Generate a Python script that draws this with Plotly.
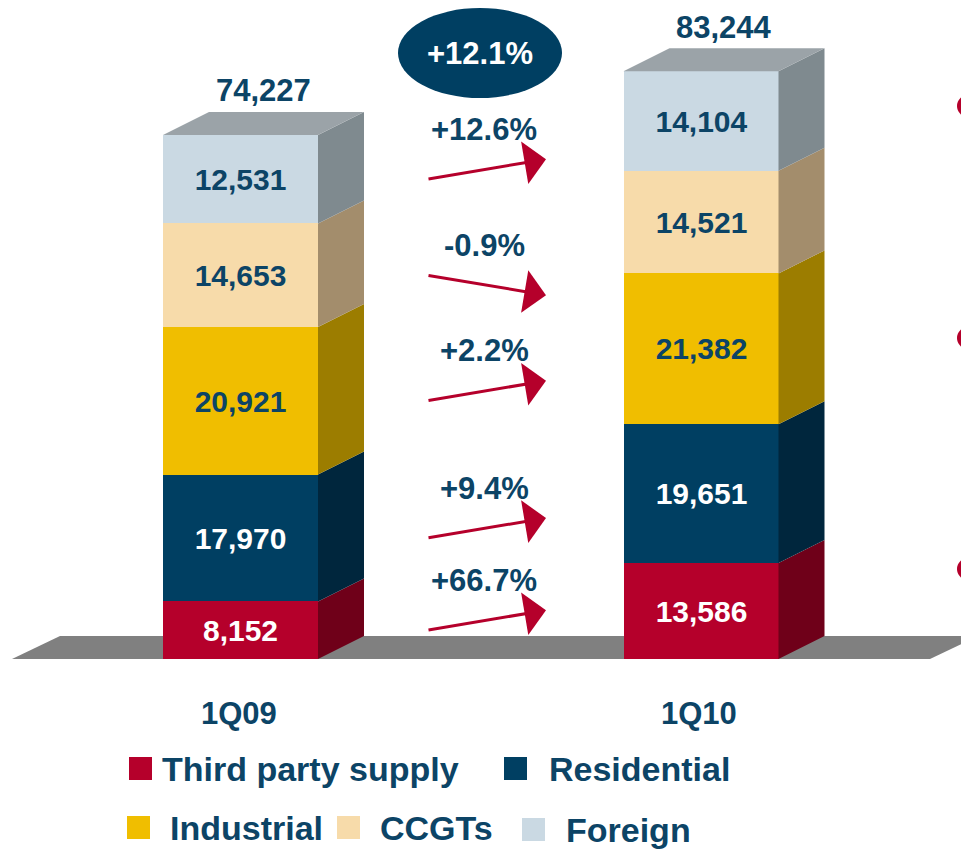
import plotly.graph_objects as go

# ---------------- data ----------------
categories = ["1Q09", "1Q10"]
segments = ["Third party supply", "Residential", "Industrial", "CCGTs", "Foreign"]
values_1q09 = [8152, 17970, 20921, 14653, 12531]
values_1q10 = [13586, 19651, 21382, 14521, 14104]
totals = [74227, 83244]
segment_changes = ["+66.7%", "+9.4%", "+2.2%", "-0.9%", "+12.6%"]
total_change = "+12.1%"

# ---------------- styles ----------------
NAVY_TXT = "#0C4466"
RED = "#B5002B"
front_colors = ["#B5002B", "#003F62", "#F0BE00", "#F7DBAA", "#CAD9E3"]
side_colors = ["#6F0019", "#00263D", "#9C7D00", "#A38D6C", "#7F8A8F"]
text_colors = ["white", "white", NAVY_TXT, NAVY_TXT, NAVY_TXT]
TOP_COLOR = "#9BA3A8"
FLOOR_COLOR = "#808080"
FONT = "Liberation Sans, Arial, sans-serif"

W, H = 961, 849
X0_PX, UX = 240.5, 460.5      # pixel of x=0, pixels per x unit
Y0_PX, SY = 659.0, 0.00706    # pixel of y=0, pixels per y unit
x_range = [-X0_PX / UX, (W - X0_PX) / UX]
y_range = [-(H - Y0_PX) / SY, Y0_PX / SY]
BAR_W = 155 / UX
DX = 46 / UX
DY = 23 / SY


def px_x(p):
    return (p - X0_PX) / UX


series = [values_1q09, values_1q10]
xs = list(range(len(categories)))

fig = go.Figure()

# front faces (stacked bars)
for i, seg in enumerate(segments):
    vals = [s[i] for s in series]
    fig.add_trace(go.Bar(
        x=xs, y=vals, width=BAR_W, name=seg,
        marker=dict(color=front_colors[i], line=dict(width=0)),
        text=[f"{v:,}" for v in vals], textposition="inside",
        insidetextanchor="middle", textangle=0,
        insidetextfont=dict(family=FONT, size=30, color=text_colors[i], weight="bold"),
        showlegend=False, hoverinfo="skip",
    ))

# side faces and top faces
for j, s in enumerate(series):
    xr = xs[j] + BAR_W / 2
    xl = xs[j] - BAR_W / 2
    base = 0
    for i, v in enumerate(s):
        y0, y1 = base, base + v
        fig.add_trace(go.Scatter(
            x=[xr, xr + DX, xr + DX, xr, xr],
            y=[y0, y0 + DY, y1 + DY, y1, y0],
            fill="toself", fillcolor=side_colors[i], mode="lines",
            line=dict(width=0, color=side_colors[i]),
            showlegend=False, hoverinfo="skip",
        ))
        base = y1
    T = sum(s)
    fig.add_trace(go.Scatter(
        x=[xl, xl + DX, xr + DX, xr, xl],
        y=[T, T + DY, T + DY, T, T],
        fill="toself", fillcolor=TOP_COLOR, mode="lines",
        line=dict(width=0, color=TOP_COLOR),
        showlegend=False, hoverinfo="skip",
    ))

shapes = []
annotations = []

# floor
fl, fr = px_x(12), px_x(930)
shapes.append(dict(
    type="path", xref="x", yref="y", layer="below",
    path=f"M{fl},0 L{fr},0 L{fr + 48 / UX},{DY} L{fl + 48 / UX},{DY} Z",
    fillcolor=FLOOR_COLOR, line=dict(width=0),
))

# totals
for j, t in enumerate(totals):
    annotations.append(dict(
        x=xs[j] + DX / 2, y=t + DY, xref="x", yref="y", yshift=21,
        text=f"{t:,}", showarrow=False, yanchor="middle",
        font=dict(family=FONT, size=31, color=NAVY_TXT, weight="bold"),
    ))

# category labels
for j, c in enumerate(categories):
    annotations.append(dict(
        x=xs[j] - 0.004, y=0, xref="x", yref="y", yshift=-54,
        text=c, showarrow=False, yanchor="middle",
        font=dict(family=FONT, size=31, color=NAVY_TXT, weight="bold"),
    ))

# growth arrows
xt, xh = px_x(427), px_x(546)
cum = 0
for i, ch in enumerate(segment_changes):
    v = values_1q09[i]
    yt = cum + v / 2
    cum += v
    sign = -1 if ch.startswith("-") else 1
    yh = yt + sign * 20 / SY
    annotations.append(dict(
        x=xh, y=yh, ax=xt, ay=yt, xref="x", yref="y", axref="x", ayref="y",
        text="", showarrow=True, arrowhead=1, arrowsize=2.4, arrowwidth=3,
        arrowcolor=RED, standoff=0,
    ))
    annotations.append(dict(
        x=(xt + xh) / 2 - 0.005, y=(yt + yh) / 2, xref="x", yref="y", yshift=40,
        text=ch, showarrow=False, yanchor="middle",
        font=dict(family=FONT, size=31, color=NAVY_TXT, weight="bold"),
    ))

# total change ellipse
shapes.append(dict(
    type="circle", xref="paper", yref="paper",
    x0=398 / W, x1=562 / W, y0=1 - 98 / H, y1=1 - 8 / H,
    fillcolor="#003F62", line=dict(width=0),
))
annotations.append(dict(
    x=480 / W, y=1 - 53 / H, xref="paper", yref="paper",
    text=total_change, showarrow=False, xanchor="center", yanchor="middle",
    font=dict(family=FONT, size=31, color="white", weight="bold"),
))

# cropped bullets on the right edge
for cy in [106, 338, 569]:
    shapes.append(dict(
        type="circle", xref="paper", yref="paper",
        x0=957 / W, x1=979 / W, y0=1 - (cy + 11) / H, y1=1 - (cy - 11) / H,
        fillcolor=RED, line=dict(width=0),
    ))

# legend (custom)
legend_items = [  # (segment index, square left px, square top px, text left px)
    (0, 129, 757, 160),
    (1, 504, 757, 547),
    (2, 127, 816, 168),
    (3, 337, 816, 378),
    (4, 522, 818, 564),
]
for idx, sx, sy, tx in legend_items:
    shapes.append(dict(
        type="rect", xref="paper", yref="paper",
        x0=sx / W, x1=(sx + 23) / W, y0=1 - (sy + 23) / H, y1=1 - sy / H,
        fillcolor=front_colors[idx], line=dict(width=0),
    ))
    annotations.append(dict(
        x=tx / W, y=1 - (sy + 12) / H, xref="paper", yref="paper",
        text=segments[idx], showarrow=False, xanchor="left", yanchor="middle",
        font=dict(family=FONT, size=34, color=NAVY_TXT, weight="bold"),
    ))

fig.update_layout(
    width=W, height=H, barmode="stack", bargap=0,
    margin=dict(l=0, r=0, t=0, b=0),
    paper_bgcolor="white", plot_bgcolor="white",
    xaxis=dict(range=x_range, visible=False, fixedrange=True),
    yaxis=dict(range=y_range, visible=False, fixedrange=True),
    shapes=shapes, annotations=annotations,
)

fig.write_html("out.html")
